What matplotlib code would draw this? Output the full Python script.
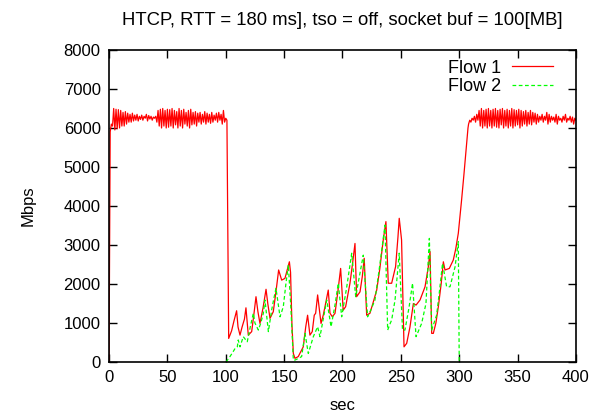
import numpy as np
import matplotlib
matplotlib.use("Agg")
import matplotlib.pyplot as plt

plt.rcParams['font.family'] = ['Liberation Sans', 'DejaVu Sans']

# Flow 1, steady part at the start, one sample per second, t = 0..101
flow1_start_v = [0, 5900, 6100, 6050, 6500, 5950, 6480, 5980, 6470, 6000,
                 6450, 6050, 6400, 6050, 6420, 6100, 6380, 6150, 6350, 6150,
                 6380, 6180, 6330, 6200, 6350, 6180, 6300, 6220, 6330, 6200,
                 6300, 6250, 6350, 6180, 6320, 6230, 6300, 6200, 6280, 6250,
                 6300, 6150, 6450, 6050, 6480, 6000, 6500, 6050, 6450, 6000,
                 6480, 6020, 6470, 6050, 6500, 6000, 6450, 6080, 6420, 6000,
                 6500, 6050, 6450, 6000, 6480, 6100, 6400, 6050, 6450, 6000,
                 6480, 6080, 6400, 6100, 6420, 6050, 6380, 6150, 6400, 6100,
                 6350, 6150, 6420, 6100, 6380, 6150, 6350, 6120, 6400, 6150,
                 6330, 6200, 6380, 6150, 6400, 6200, 6350, 6100, 6450, 6150,
                 6250, 6200]

# Flow 1, congested part
flow1_mid_t = [102.5, 105, 107, 109.3, 110.5, 112.2, 114, 116, 117.3, 119.3,
               122.2, 124, 125.9, 127.5, 129.3, 132, 134.5, 136, 137.9, 140.7,
               143, 145.3, 147.9, 150.7, 152.5, 154.5, 155.5, 156.7, 157.9, 159.3,
               162.1, 164, 166.4, 168.5, 170.1, 172.1, 174.1, 175.8, 177, 178.7,
               181.6, 183.5, 185, 187.8, 189.3, 191.3, 193.6, 196, 198.4, 200.6,
               202.7, 206.4, 208.5, 210.7, 212.1, 215, 217, 218.6, 220.7, 223.5,
               226, 229.3, 232, 234.9, 237.2, 239.2, 242.1, 245.5, 247.5, 248.6,
               250.6, 252.7, 255, 257.8, 260.7, 263, 266.4, 270.7, 273.5, 275,
               276.4, 277.8, 280, 282.1, 284.5, 286.4, 287.8, 291.5, 294.9, 297,
               299.2, 302, 304, 306, 307.5]
flow1_mid_v = [605, 800, 1050, 1315, 900, 690, 900, 1100, 1390, 690,
               780, 1200, 1675, 1300, 990, 1400, 1865, 1500, 1120, 1290,
               1800, 2360, 2100, 2145, 2350, 2570, 2300, 950, 220, 95,
               140, 250, 390, 900, 1200, 690, 780, 1200, 1250, 1720,
               990, 1200, 1420, 1845, 1250, 1160, 1250, 1800, 2400, 1330,
               1420, 2020, 2500, 3040, 1675, 1800, 2200, 2660, 1200, 1250,
               1500, 1845, 2400, 3130, 3600, 2020, 2020, 2450, 3200, 3685,
               3130, 390, 480, 900, 1500, 1460, 1590, 1930, 2440, 2830,
               735, 735, 1000, 1420, 2000, 2570, 2360, 2400, 2615, 2900,
               3300, 4150, 4800, 5500, 6000]

# Flow 1, steady part at the end, one sample per second, t = 308..400
flow1_end_v = [6100, 6200, 6150, 6250, 6200, 6300, 6150, 6350, 6200, 6450,
               6050, 6500, 6000, 6450, 6050, 6480, 6000, 6500, 6050, 6450,
               6000, 6480, 6050, 6500, 6020, 6450, 6000, 6480, 6080, 6500,
               6000, 6450, 6050, 6480, 6000, 6450, 6050, 6500, 6000, 6470,
               6050, 6450, 6080, 6480, 6000, 6450, 6050, 6420, 6100, 6450,
               6050, 6400, 6100, 6450, 6080, 6400, 6150, 6380, 6100, 6350,
               6150, 6300, 6200, 6350, 6150, 6300, 6200, 6400, 6100, 6350,
               6150, 6300, 6200, 6280, 6150, 6350, 6100, 6300, 6200, 6250,
               6150, 6300, 6200, 6350, 6150, 6250, 6200, 6300, 6150, 6280,
               6100, 6250, 6200]

# Flow 2
flow2_t = [100.2, 103.6, 106, 108, 109.9, 110.7, 112.2, 115, 118.4, 121,
           123.6, 125, 127.9, 130, 132.2, 133.6, 136.5, 139.3, 141, 143,
           146.5, 149.3, 151.5, 153.6, 155.6, 157.9, 159.3, 162, 165, 167.9,
           170.7, 173, 175, 178.7, 180.7, 183.5, 186.5, 190.2, 193.5, 196.4,
           199.3, 203.5, 207.9, 211.3, 214.5, 217.8, 221.5, 224.5, 227.8, 232,
           236.4, 238.7, 241, 242.1, 245, 248.6, 251.4, 253.5, 257, 260,
           263, 267.8, 271.5, 274.4, 276.4, 280.6, 283, 285.7, 289.2, 292.1,
           296.4, 299.2, 300]
flow2_v = [0, 140, 250, 350, 390, 565, 390, 650, 520, 900,
           1250, 1000, 820, 1000, 1250, 1590, 780, 1330, 1600, 1890,
           1160, 1420, 2000, 2490, 1500, 50, 50, 90, 140, 735,
           220, 450, 650, 905, 650, 1100, 1590, 905, 1450, 2020,
           1160, 1900, 2790, 1675, 2200, 2740, 1160, 1350, 1590, 2500,
           3510, 820, 1000, 1075, 1590, 2790, 820, 820, 1400, 2020,
           650, 990, 1500, 3170, 820, 1200, 1800, 2530, 1930, 1930,
           2440, 3085, 0]

flow1_t = list(np.arange(0, 102)) + flow1_mid_t + list(np.arange(308, 401))
flow1_v = flow1_start_v + flow1_mid_v + flow1_end_v

fig = plt.figure(figsize=(6.04, 4.20), dpi=100)
ax = fig.add_axes([0.1805, 0.138, 0.7731, 0.743])

ax.plot(flow1_t, flow1_v, color='#ff0000', lw=0.9, label='Flow 1')
ax.plot(flow2_t, flow2_v, color='#00ff00', lw=0.9, dashes=(3, 2), label='Flow 2')

ax.set_xlim(0, 400)
ax.set_ylim(0, 8000)
ax.set_xticks(np.arange(0, 401, 50))
ax.set_yticks(np.arange(0, 8001, 1000))
ax.tick_params(direction='in', top=True, right=True, length=6, width=1,
               labelsize=12, pad=6)
for s in ax.spines.values():
    s.set_linewidth(1.2)

ax.set_title('HTCP, RTT = 180 ms], tso = off, socket buf = 100[MB]',
             fontsize=13.3, pad=18)
ax.set_xlabel('sec', fontsize=12, labelpad=9)
ax.set_ylabel('Mbps', fontsize=12, labelpad=20)

ax.legend(loc='upper right', bbox_to_anchor=(0.951, 0.969), frameon=False,
          markerfirst=False, fontsize=13, handlelength=2.3, borderpad=0,
          borderaxespad=0, labelspacing=0.08, handletextpad=0.6)

fig.savefig('out.png', dpi=100)
